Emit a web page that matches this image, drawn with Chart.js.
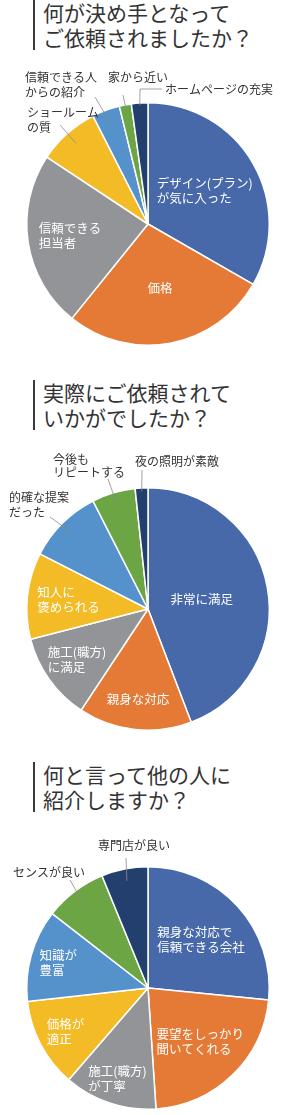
<!DOCTYPE html>
<html lang="ja">
<head>
<meta charset="utf-8">
<script src="https://cdn.jsdelivr.net/npm/chart.js@4.4.1/dist/chart.umd.min.js"></script>
<style>
  html, body { margin: 0; padding: 0; background: #fff; }
  body { width: 296px; height: 1115px; position: relative; overflow: hidden; font-family: "Noto Sans CJK JP", sans-serif; }
  .title { position: absolute; left: 33px; border-left: 2px solid #3a3a3a; padding-left: 8px; font-size: 21px; line-height: 25px; color: #333; white-space: nowrap; }
  canvas { position: absolute; left: 0; }
</style>
</head>
<body>
<div class="title" style="top:0px">何が決め手となって<br>ご依頼されましたか？</div>
<canvas id="pie1" width="296" height="296" style="top:55px"></canvas>

<div class="title" style="top:380px">実際にご依頼されて<br>いかがでしたか？</div>
<canvas id="pie2" width="296" height="296" style="top:440px"></canvas>

<div class="title" style="top:762px">何と言って他の人に<br>紹介しますか？</div>
<canvas id="pie3" width="296" height="285" style="top:830px"></canvas>

<script>
// slice colours (same order in all three pies)
const COLORS = ['#4769aa', '#e47a36', '#939498', '#f3bc26', '#5591cb', '#6ca544', '#233f6e'];

// Q1: 何が決め手となってご依頼されましたか？
const q1Labels = ['デザイン(プラン)\nが気に入った', '価格', '信頼できる\n担当者', 'ショールーム\nの質', '信頼できる人\nからの紹介', '家から近い', 'ホームページの充実'];
const q1Values = [33.3, 27.5, 23.5, 8.2, 3.7, 1.6, 2.2];

// Q2: 実際にご依頼されていかがでしたか？
const q2Labels = ['非常に満足', '親身な対応', '施工(職方)\nに満足', '知人に\n褒められる', '的確な提案\nだった', '今後も\nリピートする', '夜の照明が素敵'];
const q2Values = [44.2, 15.1, 11.7, 11.5, 10.0, 5.8, 1.7];

// Q3: 何と言って他の人に紹介しますか？
const q3Labels = ['親身な対応で\n信頼できる会社', '要望をしっかり\n聞いてくれる', '施工(職方)\nが丁寧', '価格が\n適正', '知識が\n豊富', 'センスが良い', '専門店が良い'];
const q3Values = [26.6, 22.4, 12.4, 11.9, 12.3, 8.3, 6.2];

// label placement: inside labels sit on the slice mid-angle at frac*radius,
// outside labels get a text offset from the pie centre and a leader line
const q1Place = [
  { frac: 0.54 }, { frac: 0.54 }, { frac: 0.65 },
  { text: [-121, -112], lead: 0.89, path: [[-88, -99]] },
  { text: [-123, -147], lead: 0.88, path: [[-53, -127]] },
  { text: [-40, -147], lead: 0.95, path: [[-25, -129]] },
  { text: [17, -135], lead: 0.98, path: [[-8, -135], [14, -135]] }
];
const q2Place = [
  { frac: 0.45 }, { frac: 0.75 }, { frac: 0.72 }, { frac: 0.66 },
  { text: [-139, -112], lead: 0.9, path: [[-98, -92]] },
  { text: [-95, -150], lead: 0.9, path: [[-40, -130]], lh: 13 },
  { text: [-13, -148], lead: 0.97, path: [[-6, -139]] }
];
const q3Place = [
  { frac: 0.59 }, { frac: 0.62 }, { frac: 0.79 }, { frac: 0.77 }, { frac: 0.77 },
  { text: [-135, -116], lead: 0.9, path: [[-78, -108]] },
  { text: [-50, -143], lead: 0.9, path: [[-22, -130]] }
];

const FONT = '"Noto Sans CJK JP", sans-serif';

// draws the slice labels and leader lines
const sliceLabels = {
  id: 'sliceLabels',
  afterDatasetsDraw(chart, args, opts) {
    const ctx = chart.ctx;
    const arcs = chart.getDatasetMeta(0).data;
    const labels = chart.data.labels;
    ctx.save();
    ctx.textBaseline = 'middle';
    ctx.textAlign = 'left';
    arcs.forEach((arc, i) => {
      const p = opts.place[i];
      const lines = labels[i].split('\n');
      const mid = (arc.startAngle + arc.endAngle) / 2;
      if (p.frac) {
        ctx.font = '12.5px ' + FONT;
        ctx.fillStyle = '#fff';
        const lh = 15;
        const cx = arc.x + Math.cos(mid) * arc.outerRadius * p.frac;
        const cy = arc.y + Math.sin(mid) * arc.outerRadius * p.frac;
        const w = Math.max(...lines.map(l => ctx.measureText(l).width));
        lines.forEach((l, k) => {
          ctx.fillText(l, cx - w / 2, cy - (lines.length - 1) * lh / 2 + k * lh);
        });
      } else {
        // leader line
        ctx.strokeStyle = '#8a8a8a';
        ctx.lineWidth = 0.8;
        ctx.beginPath();
        ctx.moveTo(arc.x + Math.cos(mid) * arc.outerRadius * p.lead, arc.y + Math.sin(mid) * arc.outerRadius * p.lead);
        p.path.forEach(pt => ctx.lineTo(arc.x + pt[0], arc.y + pt[1]));
        ctx.stroke();
        ctx.font = '12px ' + FONT;
        ctx.fillStyle = '#333';
        const lh = p.lh || 15;
        lines.forEach((l, k) => {
          ctx.fillText(l, arc.x + p.text[0], arc.y + p.text[1] + k * lh);
        });
      }
    });
    ctx.restore();
  }
};

function makePie(id, labels, values, place, padTop, padBottom) {
  return new Chart(document.getElementById(id), {
    type: 'pie',
    data: {
      labels: labels,
      datasets: [{
        data: values,
        backgroundColor: COLORS,
        borderColor: '#fff',
        borderWidth: 1.5,
        hoverOffset: 0
      }]
    },
    options: {
      responsive: false,
      animation: false,
      layout: { padding: { top: padTop, bottom: padBottom, left: 26, right: 26 } },
      plugins: {
        legend: { display: false },
        tooltip: { enabled: false },
        sliceLabels: { place: place }
      }
    },
    plugins: [sliceLabels]
  });
}

makePie('pie1', q1Labels, q1Values, q1Place, 47, 5);
makePie('pie2', q2Labels, q2Values, q2Place, 47, 5);
makePie('pie3', q3Labels, q3Values, q3Place, 36, 5);
</script>
</body>
</html>
